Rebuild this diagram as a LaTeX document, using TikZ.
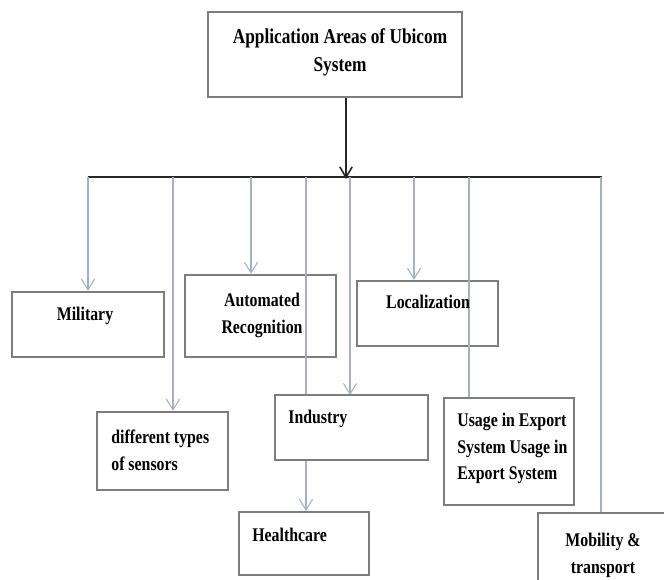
\documentclass[tikz,border=0pt]{standalone}
\usepackage{fontspec}
\setmainfont{Liberation Serif}[FakeStretch=0.82]
\usetikzlibrary{arrows.meta}
\definecolor{boxgray}{RGB}{125,125,125}
\definecolor{branchblue}{RGB}{160,178,198}

\begin{document}
\begin{tikzpicture}[x=0.02cm,y=-0.02cm,
  areabox/.style={draw=boxgray,line width=1.4pt,fill=white,inner sep=0pt},
  areatext/.style={inner sep=0pt,font=\fontsize{11}{15}\selectfont\bfseries},
  branch/.style={draw=branchblue,line width=0.6pt},
  branchto/.style={branch,-{Straight Barb[length=6pt,width=7.5pt]}},
  trunk/.style={draw=black!85,line width=0.9pt}]
  \clip (0,0) rectangle (664,580);
  \fill[white] (0,0) rectangle (664,580);
  % boxes
  \node[areabox,minimum width=5.08cm,minimum height=1.70cm] (top) at (335,54.5) {};
  \node[areabox,minimum width=3.04cm,minimum height=1.30cm] (mil) at (88,324.5) {};
  \node[areabox,minimum width=3.02cm,minimum height=1.64cm] (auto) at (260.5,316) {};
  \node[areabox,minimum width=2.82cm,minimum height=1.30cm] (loc) at (427.5,313.5) {};
  \node[areabox,minimum width=2.62cm,minimum height=1.56cm] (sens) at (162.5,451) {};
  \node[areabox,minimum width=2.60cm,minimum height=1.26cm] (heal) at (304,543.5) {};
  \node[areabox,minimum width=2.60cm,minimum height=2.14cm] (usage) at (509,451.5) {};
  \node[areabox,minimum width=3.24cm,minimum height=2.14cm] (mob) at (619,566.5) {};
  % trunk and bar
  \coordinate (trunkend) at (346,179);
  \coordinate (barl) at (88,177);
  \coordinate (barr) at (602,177);
  \draw[trunk,-{Straight Barb[length=6pt,width=7pt]}] (top.south -| trunkend) -- (trunkend);
  \draw[trunk,line width=1.1pt] (barl) -- (barr);
  % branches
  \coordinate (bsens) at (173,177);
  \coordinate (bauto) at (251,177);
  \coordinate (bheal) at (306,177);
  \coordinate (bind) at (350,177);
  \coordinate (bloc) at (414,177);
  \coordinate (busage) at (469,177);
  \coordinate (bmob) at (601,177);
  \coordinate (indtop) at (351.5,395);
  \draw[branchto] (barl) -- (barl |- mil.north);
  \draw[branchto] (bsens) -- (bsens |- sens.north);
  \draw[branchto] (bauto) -- (bauto |- auto.north);
  \draw[branchto] (bheal) -- (bheal |- heal.north);
  \draw[branchto] (bind) -- (bind |- indtop);
  \draw[branchto] (bloc) -- (bloc |- loc.north);
  \draw[branch] (busage) -- (busage |- usage.north);
  \draw[branch] (bmob) -- (bmob |- mob.north);
  \node[areabox,minimum width=3.06cm,minimum height=1.30cm] (ind) at (351.5,427.5) {};
  % texts
  \node[areatext,align=center,anchor=north,font=\fontsize{12}{16}\selectfont\bfseries] (toptext) at (340,28) {Application Areas of Ubicom\\System};
  \node[areatext,anchor=north] (miltext) at (85,307) {Military};
  \node[areatext,align=center,anchor=north] (autotext) at (262,293) {Automated\\Recognition};
  \node[areatext,anchor=north] (loctext) at (428,295) {Localization};
  \node[areatext,align=left,anchor=north west] (senstext) at (111,430) {different types\\of sensors};
  \node[areatext,anchor=north west] (indtext) at (288,410) {Industry};
  \node[areatext,anchor=north west] (healtext) at (252,528) {Healthcare};
  \node[areatext,align=left,anchor=north west] (usetext) at (457,413) {Usage in Export\\System Usage in\\Export System};
  \node[areatext,align=center,anchor=north] (mobtext) at (603,533) {Mobility \&\\transport};
\end{tikzpicture}
\end{document}
